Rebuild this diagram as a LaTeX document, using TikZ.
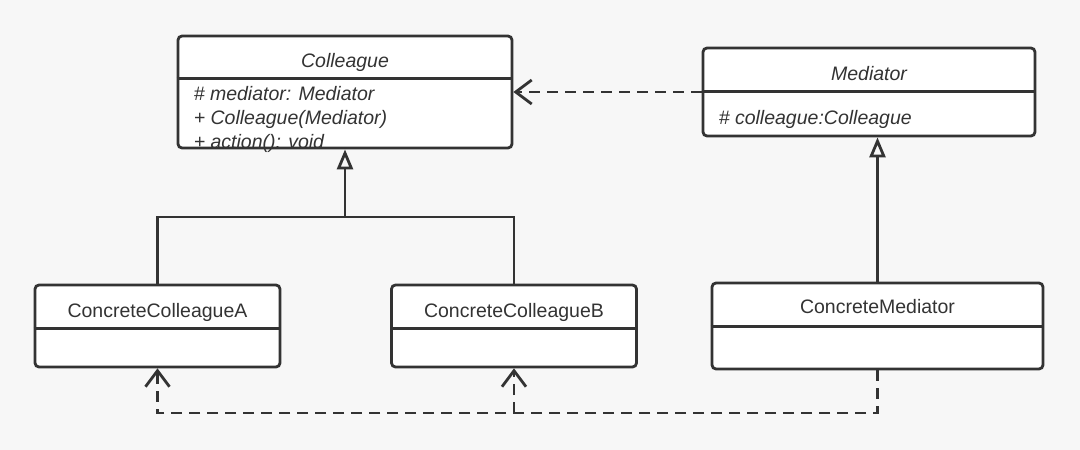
\documentclass[tikz,border=0pt]{standalone}
\usepackage{fontspec}
\setmainfont{Liberation Sans}
\usepackage{tikz}
\usetikzlibrary{arrows.meta, positioning}
\definecolor{umlline}{HTML}{333333}
\definecolor{umlback}{HTML}{F7F7F7}
\tikzset{
    classnode/.style = {draw=umlline, fill=white, rectangle, rounded corners=4pt, line width=2.8pt,
      inner sep=0pt, node distance=0em},
    textnode/.style  = {draw=none, fill=none, rectangle, minimum size=0cm, inner sep=0em,
      node distance=0em, text=umlline, font=\fontsize{19.5}{24}\selectfont},
    italicnode/.style = {textnode, font=\fontsize{19.5}{24}\selectfont\itshape},
    divider/.style = {umlline, line width=2.8pt},
    inherit/.style = {umlline, line width=2.8pt, -{Triangle[open, width=16pt, length=20pt]}},
    depend/.style = {umlline, line width=2.8pt, dash pattern=on 11pt off 7pt,
      -{Straight Barb[width=24pt, length=16pt]}},
    every text node part/.style={align=left}
}
\begin{document}
\begin{tikzpicture}[x=1pt, y=-1pt]
    \fill [umlback] (0,0) rectangle (1080,450);

    \node [classnode, name=ColleagueBox, minimum width=334pt, minimum height=112pt] at (345,92) {};
    \node [classnode, name=MediatorBox, minimum width=332pt, minimum height=88pt,
      right of = ColleagueBox, xshift=524pt] {};
    \node [classnode, name=ConcreteABox, minimum width=245pt, minimum height=82pt] at (157.5,326) {};
    \node [classnode, name=ConcreteBBox, minimum width=245pt, minimum height=82pt,
      right of = ConcreteABox, xshift=356.5pt] {};
    \node [classnode, name=ConcreteMediatorBox, minimum width=331pt, minimum height=86pt,
      right of = ConcreteBBox, xshift=363.5pt] {};

    % compartments
    \draw [divider] ([yshift=-44pt]ColleagueBox.north west) -- ([yshift=-44pt]ColleagueBox.north east);
    \draw [divider] ([yshift=-45pt]MediatorBox.north west) -- ([yshift=-45pt]MediatorBox.north east);
    \draw [divider] ([yshift=-45pt]ConcreteABox.north west) -- ([yshift=-45pt]ConcreteABox.north east);
    \draw [divider] ([yshift=-45pt]ConcreteBBox.north west) -- ([yshift=-45pt]ConcreteBBox.north east);
    \draw [divider] ([yshift=-45pt]ConcreteMediatorBox.north west) -- ([yshift=-45pt]ConcreteMediatorBox.north east);

    \node [italicnode, name=ColleagueTitle, below of = ColleagueBox, yshift=30pt] {Colleague};
    \node [italicnode, name=ColleagueMembers, anchor=west] at ([xshift=17pt, yshift=-27pt]ColleagueBox.west)
      {\# mediator: Mediator\\+ Colleague(Mediator)\\+ action(): void};
    \node [italicnode, name=MediatorTitle, below of = MediatorBox, yshift=18pt] {Mediator};
    \node [italicnode, name=MediatorMembers, anchor=west] at ([xshift=17pt, yshift=-27pt]MediatorBox.west)
      {\# colleague:Colleague};
    \node [textnode, name=ConcreteATitle, below of = ConcreteABox, yshift=14pt] {ConcreteColleagueA};
    \node [textnode, name=ConcreteBTitle, below of = ConcreteBBox, yshift=14pt] {ConcreteColleagueB};
    \node [textnode, name=ConcreteMediatorTitle, below of = ConcreteMediatorBox, yshift=19pt] {ConcreteMediator};

    % generalization
    \coordinate (ColleagueJoint) at (345,217);
    \draw [divider] (ConcreteABox.north) |- (ColleagueJoint) -| (ConcreteBBox.north);
    \draw [inherit] (ColleagueJoint) -- (ColleagueBox.south);
    \draw [inherit] (ConcreteMediatorBox.north) -- (ConcreteMediatorBox.north |- MediatorBox.south);

    % dependencies
    \draw [depend] (MediatorBox.west) -- (ColleagueBox.east);
    \coordinate (DependJoint) at (514,413);
    \draw [depend] (ConcreteMediatorBox.south) |- (DependJoint) -| (ConcreteABox.south);
    \draw [depend] (DependJoint) -- (ConcreteBBox.south);
\end{tikzpicture}
\end{document}
